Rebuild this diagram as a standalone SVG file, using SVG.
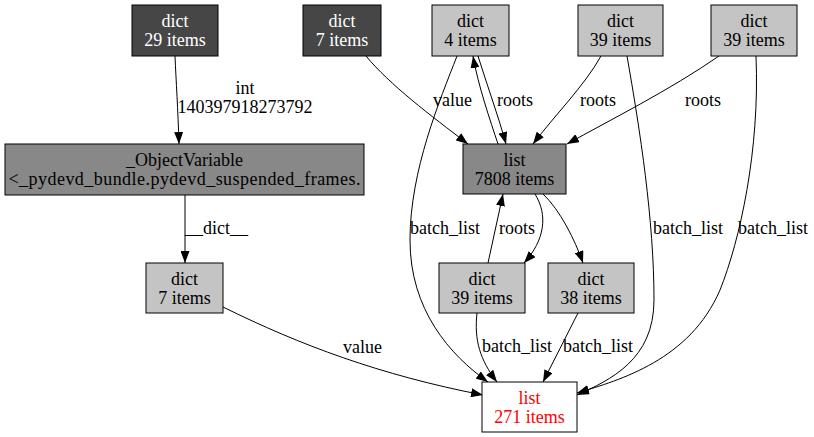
<svg xmlns="http://www.w3.org/2000/svg" width="814" height="437" viewBox="0 0 814 437" font-family="'Liberation Serif', 'Times New Roman', serif" font-size="18">
<style>
text{font-family:'Liberation Serif','Times New Roman',serif;font-size:18px;}
.n rect{stroke:#000;stroke-width:1;}
.n text{text-anchor:middle;}
.dark rect{fill:#464646;} .dark text{fill:#fff;}
.mid rect{fill:#888888;}
.light rect{fill:#c4c4c4;}
.red rect{fill:#fff;} .red text{fill:#ff0000;}
.e path{fill:none;stroke:#000;stroke-width:1;marker-end:url(#ah);}
.e text{fill:#000;}
</style>
<defs>
<marker id="ah" markerUnits="userSpaceOnUse" markerWidth="12" markerHeight="9" refX="12" refY="4.5" orient="auto">
<path d="M0,0 L12,4.5 L0,9 z" fill="#000"/>
</marker>
</defs>
<rect width="814" height="437" fill="#fff"/>
<g id="edges" class="e">
<path d="M175,56 C176,80 178,110 179,144"/>
<path d="M366,56 C390,85 430,115 468,144"/>
<path d="M457,56 C440,100 410,170 410,240 C410,310 450,355 488,382"/>
<path d="M498,144 C490,120 478,85 473,56"/>
<path d="M478,56 C487,85 498,115 506,144"/>
<path d="M601,56 C585,85 555,115 533,144"/>
<path d="M719,56 C670,90 610,120 567,144"/>
<path d="M627,56 C640,130 654,220 654,300 C654,360 610,380 577,395"/>
<path d="M756,56 C760,150 740,240 720,290 C690,360 620,380 577,393"/>
<path d="M488,263 L503,194"/>
<path d="M535,194 C548,215 545,240 524,263"/>
<path d="M543,194 C560,210 575,240 583,263"/>
<path d="M477,313 C474,340 480,360 497,382"/>
<path d="M578,313 L543,382"/>
<path d="M185,195 L185,263"/>
<path d="M223,307 C300,345 380,375 483,395"/>
<text x="245" y="94" text-anchor="middle">int</text>
<text x="245" y="113" text-anchor="middle">140397918273792</text>
<text x="433" y="106">value</text>
<text x="497" y="106">roots</text>
<text x="580" y="106">roots</text>
<text x="685" y="106">roots</text>
<text x="410" y="234">batch_list</text>
<text x="653" y="234">batch_list</text>
<text x="738" y="234">batch_list</text>
<text x="499" y="234">roots</text>
<text x="185" y="234">__dict__</text>
<text x="482" y="352">batch_list</text>
<text x="563" y="352">batch_list</text>
<text x="343" y="353">value</text>
</g>
<g id="n_dict29" class="n dark"><rect x="132" y="5" width="86" height="51"/><text x="175" y="27">dict</text><text x="175" y="46">29 items</text></g>
<g id="n_dict7a" class="n dark"><rect x="303" y="5" width="78" height="51"/><text x="342" y="27">dict</text><text x="342" y="46">7 items</text></g>
<g id="n_dict4" class="n light"><rect x="432" y="5" width="77" height="51"/><text x="470.5" y="27">dict</text><text x="470.5" y="46">4 items</text></g>
<g id="n_dict39a" class="n light"><rect x="578" y="5" width="85" height="51"/><text x="620.5" y="27">dict</text><text x="620.5" y="46">39 items</text></g>
<g id="n_dict39b" class="n light"><rect x="711" y="5" width="86" height="51"/><text x="754" y="27">dict</text><text x="754" y="46">39 items</text></g>
<g id="n_objvar" class="n mid"><rect x="5" y="144" width="359" height="51"/><text x="184.5" y="166">_ObjectVariable</text><text x="184.5" y="185" textLength="352" lengthAdjust="spacing">&lt;_pydevd_bundle.pydevd_suspended_frames.</text></g>
<g id="n_list7808" class="n mid"><rect x="463" y="144" width="103" height="50"/><text x="514.5" y="166">list</text><text x="514.5" y="185">7808 items</text></g>
<g id="n_dict7b" class="n light"><rect x="146" y="263" width="77" height="50"/><text x="184.5" y="285">dict</text><text x="184.5" y="304">7 items</text></g>
<g id="n_dict39c" class="n light"><rect x="439" y="263" width="86" height="50"/><text x="482" y="285">dict</text><text x="482" y="304">39 items</text></g>
<g id="n_dict38" class="n light"><rect x="548" y="263" width="86" height="50"/><text x="591" y="285">dict</text><text x="591" y="304">38 items</text></g>
<g id="n_list271" class="n red"><rect x="482" y="382" width="95" height="50"/><text x="529.5" y="404">list</text><text x="529.5" y="423">271 items</text></g>
</svg>
